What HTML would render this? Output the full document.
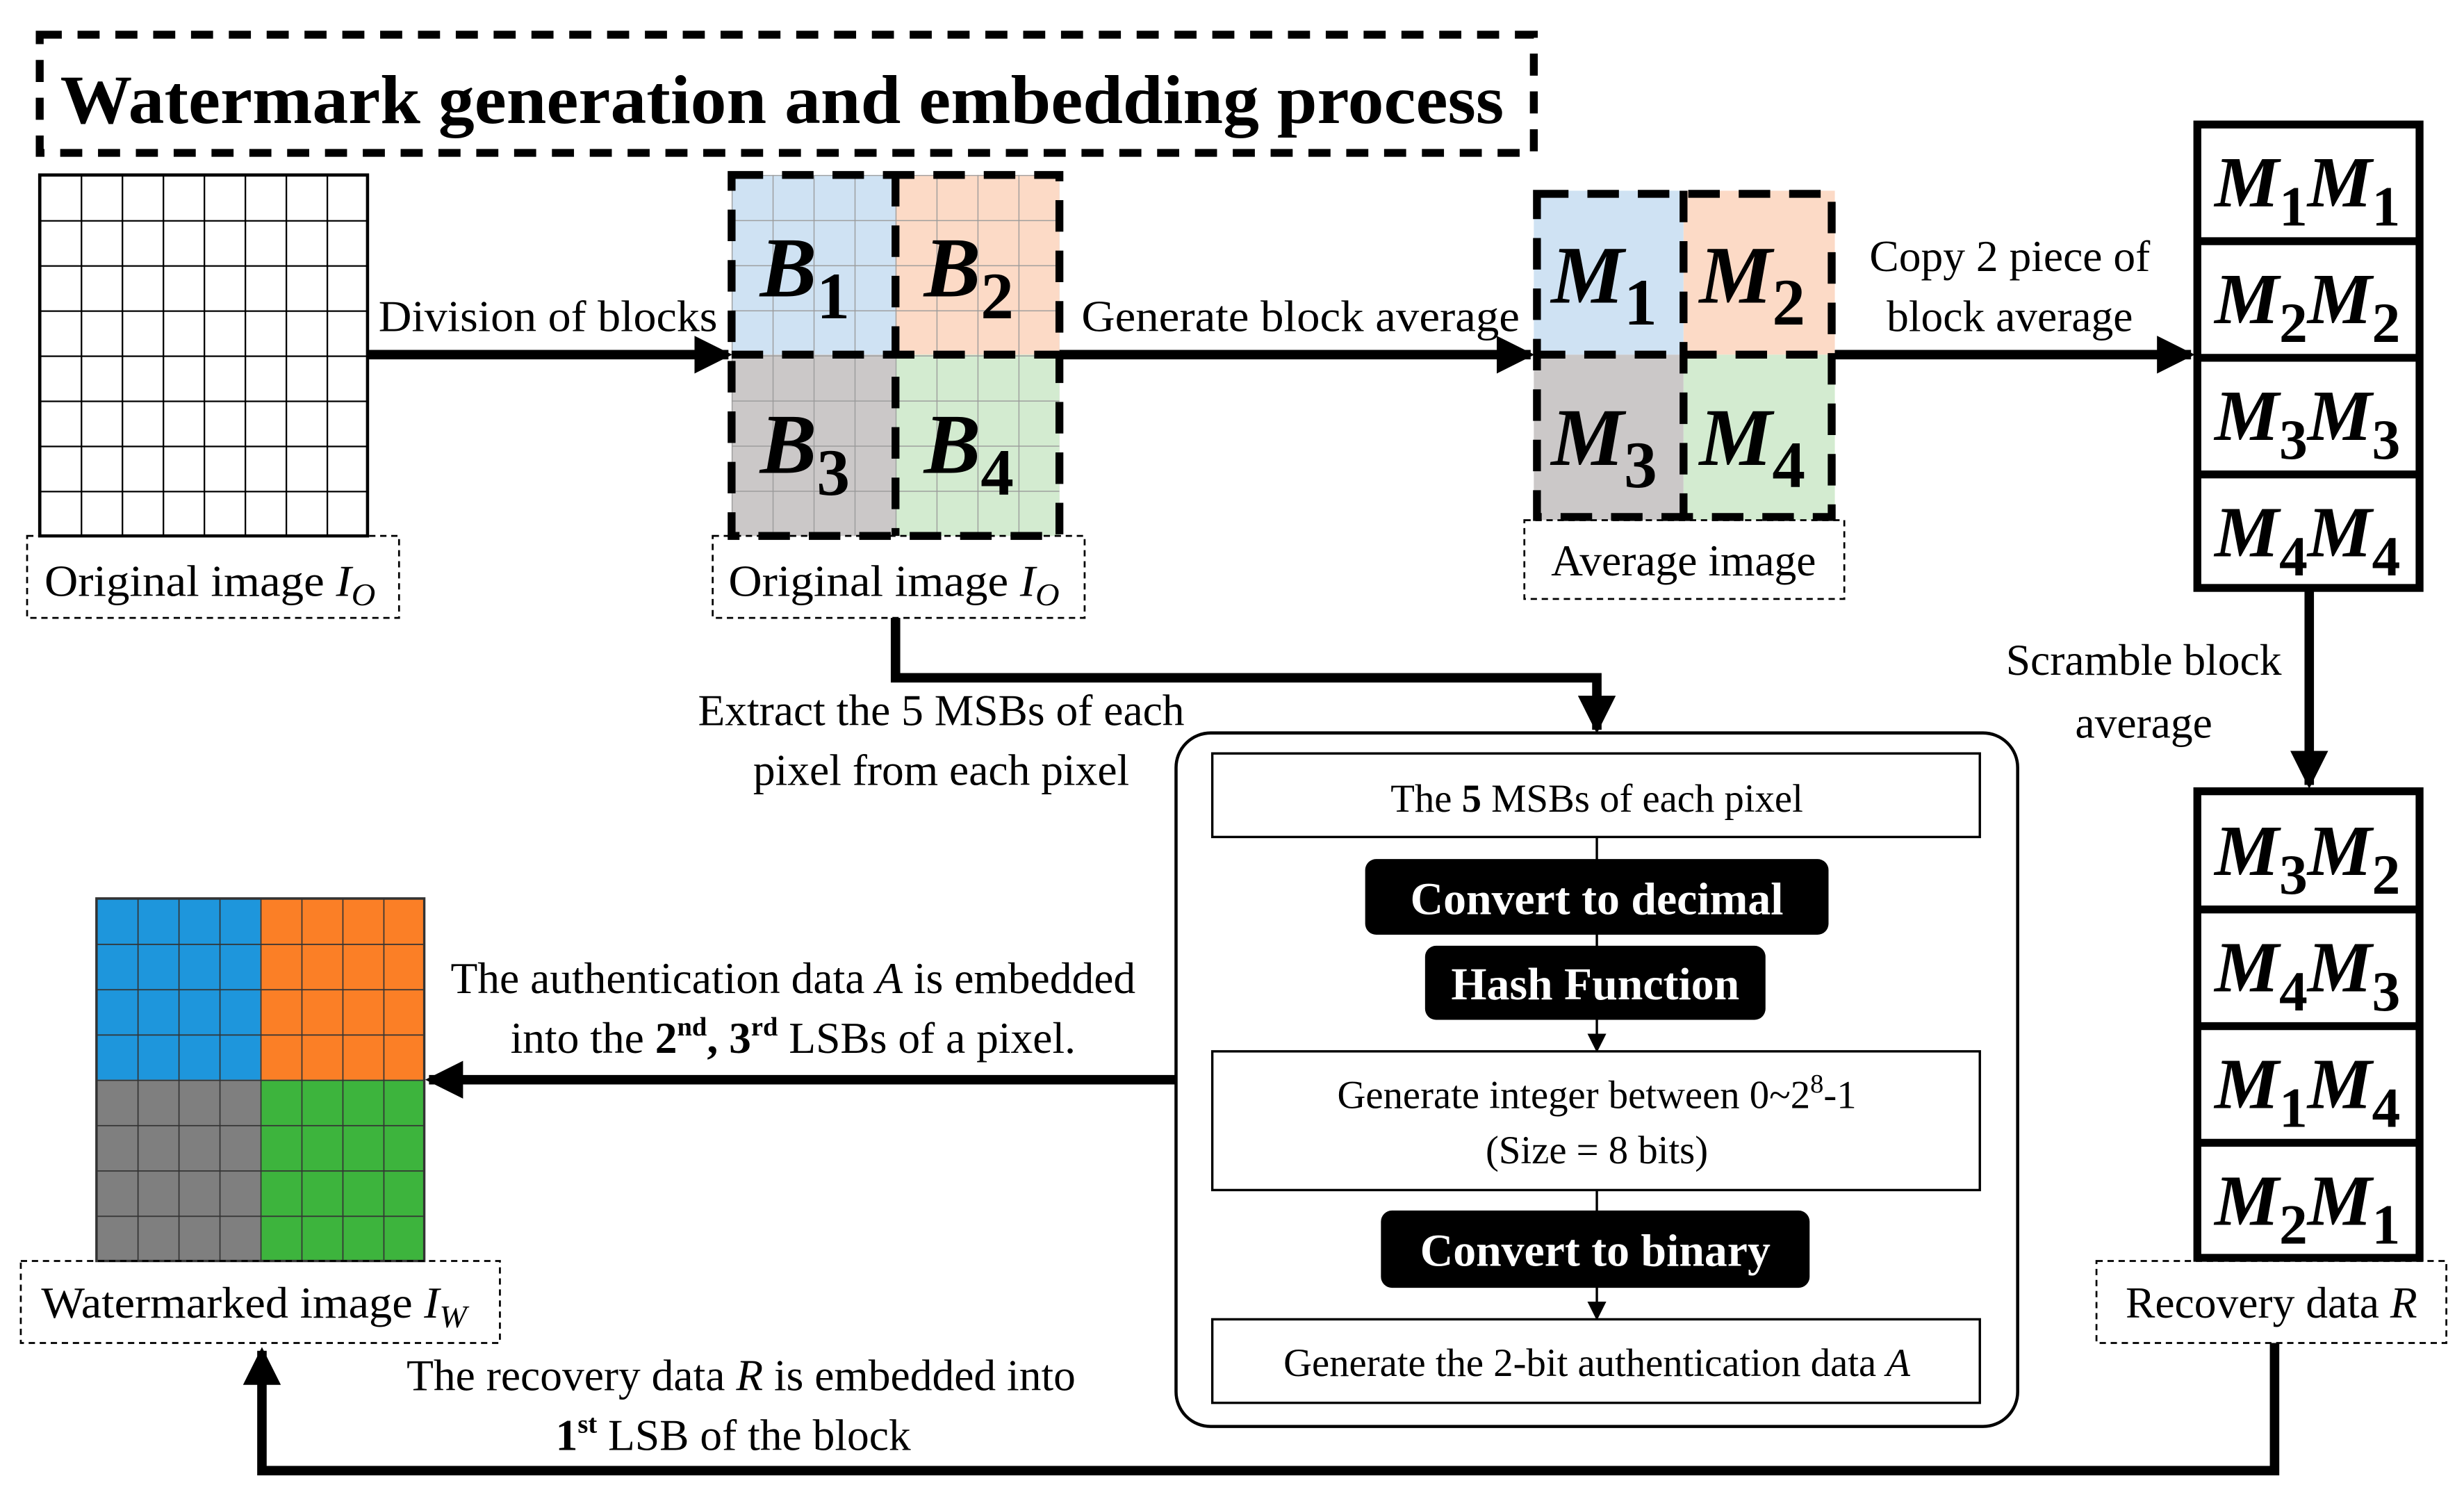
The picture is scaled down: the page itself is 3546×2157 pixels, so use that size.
<!DOCTYPE html>
<html><head><meta charset="utf-8"><style>html,body{margin:0;padding:0;background:#fff}svg{display:block}text{font-family:"Liberation Serif",serif}</style></head>
<body>
<svg width="3546" height="2157" viewBox="0 0 1563 951" xmlns="http://www.w3.org/2000/svg" font-family="Liberation Serif, serif">
<defs>
<pattern id="g1" x="25" y="111" width="26" height="28.625" patternUnits="userSpaceOnUse"><path d="M0 0H26M0 0V28.625" stroke="#000" stroke-width="2" fill="none"/></pattern>
<pattern id="g2" x="464" y="111" width="26" height="28.625" patternUnits="userSpaceOnUse"><path d="M0 0H26M0 0V28.625" stroke="#999" stroke-width="1.2" fill="none"/></pattern>
<pattern id="g3" x="61" y="570" width="26" height="28.75" patternUnits="userSpaceOnUse"><path d="M0 0H26M0 0V28.75" stroke="#333" stroke-width="1.5" fill="none"/></pattern>
<marker id="ah" markerWidth="4" markerHeight="4" refX="3.6" refY="2" orient="auto" markerUnits="strokeWidth"><path d="M0 0L4 2L0 4Z" fill="#000"/></marker>
<marker id="as" markerWidth="8" markerHeight="8" refX="7.5" refY="4" orient="auto" markerUnits="strokeWidth"><path d="M0 0L8 4L0 8Z" fill="#000"/></marker>
</defs>

<rect x="25" y="22" width="948" height="75" fill="none" stroke="#000" stroke-width="5" stroke-dasharray="14,10"/>
<text x="38" y="78" font-size="44" font-weight="bold" textLength="916" lengthAdjust="spacingAndGlyphs">Watermark generation and embedding process</text>

<rect x="25" y="111" width="208" height="229" fill="url(#g1)"/>
<rect x="25" y="111" width="208" height="229" fill="none" stroke="#000" stroke-width="2"/>
<rect x="17" y="340" width="236" height="52" fill="none" stroke="#000" stroke-width="1.2" stroke-dasharray="4,3"/>
<text x="28" y="378" font-size="28" textLength="210" lengthAdjust="spacingAndGlyphs">Original image <tspan font-style="italic">I<tspan font-size="20" dy="6">O</tspan></tspan></text>

<line x1="233" y1="225" x2="462" y2="225" stroke="#000" stroke-width="6" marker-end="url(#ah)"/>
<text x="240" y="210" font-size="28" textLength="215" lengthAdjust="spacingAndGlyphs">Division of blocks</text>

<rect x="464" y="111" width="104" height="114" fill="#cfe2f3"/>
<rect x="568" y="111" width="104" height="114" fill="#fcdac6"/>
<rect x="464" y="225" width="104" height="115" fill="#cbc8c8"/>
<rect x="568" y="225" width="104" height="115" fill="#d3ebd0"/>
<rect x="464" y="111" width="208" height="229" fill="url(#g2)"/>
<g stroke="#000" stroke-width="5" stroke-dasharray="20,12" fill="none">
<rect x="464" y="111" width="208" height="229"/>
<line x1="568" y1="111" x2="568" y2="340"/>
<line x1="464" y1="225" x2="672" y2="225"/>
</g>
<g font-size="54" font-weight="bold" font-style="italic">
<text x="482" y="188">B<tspan font-size="42" font-style="normal" dy="14">1</tspan></text>
<text x="586" y="188">B<tspan font-size="42" font-style="normal" dy="14">2</tspan></text>
<text x="482" y="300">B<tspan font-size="42" font-style="normal" dy="14">3</tspan></text>
<text x="586" y="300">B<tspan font-size="42" font-style="normal" dy="14">4</tspan></text>
</g>
<rect x="452" y="340" width="236" height="52" fill="none" stroke="#000" stroke-width="1.2" stroke-dasharray="4,3"/>
<text x="462" y="378" font-size="28" textLength="210" lengthAdjust="spacingAndGlyphs">Original image <tspan font-style="italic">I<tspan font-size="20" dy="6">O</tspan></tspan></text>

<line x1="672" y1="225" x2="971" y2="225" stroke="#000" stroke-width="6" marker-end="url(#ah)"/>
<text x="686" y="210" font-size="28" textLength="278" lengthAdjust="spacingAndGlyphs">Generate block average</text>

<rect x="973" y="121" width="95" height="104" fill="#cfe2f3"/>
<rect x="1068" y="121" width="96" height="104" fill="#fcdac6"/>
<rect x="973" y="225" width="95" height="105" fill="#cbc8c8"/>
<rect x="1068" y="225" width="96" height="105" fill="#d3ebd0"/>
<g stroke="#000" stroke-width="5" stroke-dasharray="20,12" fill="none">
<rect x="975" y="123" width="187" height="205"/>
<line x1="1068" y1="121" x2="1068" y2="330"/>
<line x1="973" y1="225" x2="1164" y2="225"/>
</g>
<g font-size="52" font-weight="bold" font-style="italic">
<text x="984" y="192">M<tspan font-size="42" font-style="normal" dy="14">1</tspan></text>
<text x="1078" y="192">M<tspan font-size="42" font-style="normal" dy="14">2</tspan></text>
<text x="984" y="295">M<tspan font-size="42" font-style="normal" dy="14">3</tspan></text>
<text x="1078" y="295">M<tspan font-size="42" font-style="normal" dy="14">4</tspan></text>
</g>
<rect x="967" y="330" width="203" height="50" fill="none" stroke="#000" stroke-width="1.2" stroke-dasharray="4,3"/>
<text x="1068" y="365" font-size="28" text-anchor="middle">Average image</text>

<line x1="1164" y1="225" x2="1390" y2="225" stroke="#000" stroke-width="6" marker-end="url(#ah)"/>
<text x="1275" y="172" font-size="28" text-anchor="middle">Copy 2 piece of</text>
<text x="1275" y="210" font-size="28" text-anchor="middle">block average</text>

<g fill="none" stroke="#000" stroke-width="5">
<rect x="1394" y="79" width="141" height="294"/>
<line x1="1394" y1="153" x2="1535" y2="153"/>
<line x1="1394" y1="227" x2="1535" y2="227"/>
<line x1="1394" y1="301" x2="1535" y2="301"/>
</g>
<g font-size="46" font-weight="bold" font-style="italic">
<text x="1405" y="131">M<tspan font-size="36" font-style="normal" dy="12">1</tspan><tspan dy="-12">M</tspan><tspan font-size="36" font-style="normal" dy="12">1</tspan></text>
<text x="1405" y="205">M<tspan font-size="36" font-style="normal" dy="12">2</tspan><tspan dy="-12">M</tspan><tspan font-size="36" font-style="normal" dy="12">2</tspan></text>
<text x="1405" y="279">M<tspan font-size="36" font-style="normal" dy="12">3</tspan><tspan dy="-12">M</tspan><tspan font-size="36" font-style="normal" dy="12">3</tspan></text>
<text x="1405" y="353">M<tspan font-size="36" font-style="normal" dy="12">4</tspan><tspan dy="-12">M</tspan><tspan font-size="36" font-style="normal" dy="12">4</tspan></text>
</g>

<line x1="1465" y1="375" x2="1465" y2="498" stroke="#000" stroke-width="6" marker-end="url(#ah)"/>
<text x="1360" y="428" font-size="28" text-anchor="middle">Scramble block</text>
<text x="1360" y="468" font-size="28" text-anchor="middle">average</text>

<g fill="none" stroke="#000" stroke-width="5">
<rect x="1394" y="502" width="141" height="296"/>
<line x1="1394" y1="577" x2="1535" y2="577"/>
<line x1="1394" y1="651" x2="1535" y2="651"/>
<line x1="1394" y1="725" x2="1535" y2="725"/>
</g>
<g font-size="46" font-weight="bold" font-style="italic">
<text x="1405" y="555">M<tspan font-size="36" font-style="normal" dy="12">3</tspan><tspan dy="-12">M</tspan><tspan font-size="36" font-style="normal" dy="12">2</tspan></text>
<text x="1405" y="629">M<tspan font-size="36" font-style="normal" dy="12">4</tspan><tspan dy="-12">M</tspan><tspan font-size="36" font-style="normal" dy="12">3</tspan></text>
<text x="1405" y="703">M<tspan font-size="36" font-style="normal" dy="12">1</tspan><tspan dy="-12">M</tspan><tspan font-size="36" font-style="normal" dy="12">4</tspan></text>
<text x="1405" y="777">M<tspan font-size="36" font-style="normal" dy="12">2</tspan><tspan dy="-12">M</tspan><tspan font-size="36" font-style="normal" dy="12">1</tspan></text>
</g>
<rect x="1330" y="800" width="222" height="52" fill="none" stroke="#000" stroke-width="1.2" stroke-dasharray="4,3"/>
<text x="1441" y="836" font-size="28" text-anchor="middle">Recovery data <tspan font-style="italic">R</tspan></text>

<polyline points="1443,852 1443,933 166,933 166,857" fill="none" stroke="#000" stroke-width="6" marker-end="url(#ah)"/>
<text x="470" y="882" font-size="28" text-anchor="middle">The recovery data <tspan font-style="italic">R</tspan> is embedded into</text>
<text x="465" y="920" font-size="28" text-anchor="middle"><tspan font-weight="bold">1<tspan font-size="17" dy="-11">st</tspan></tspan><tspan dy="11"> LSB of  the block</tspan></text>

<polyline points="568,392 568,430 1013,430 1013,463" fill="none" stroke="#000" stroke-width="6" marker-end="url(#ah)"/>
<text x="597" y="460" font-size="28" text-anchor="middle">Extract the 5 MSBs of each</text>
<text x="597" y="498" font-size="28" text-anchor="middle">pixel from each pixel</text>

<rect x="746" y="465" width="534" height="440" rx="22" fill="none" stroke="#000" stroke-width="2"/>
<rect x="769" y="478" width="487" height="53" fill="none" stroke="#000" stroke-width="1.5"/>
<text x="1013" y="515" font-size="25" text-anchor="middle">The <tspan font-weight="bold">5</tspan> MSBs of each pixel</text>
<line x1="1013" y1="531" x2="1013" y2="667" stroke="#000" stroke-width="1.5" marker-end="url(#as)"/>
<rect x="866" y="545" width="294" height="48" rx="7" fill="#000"/>
<text x="1013" y="580" font-size="29" font-weight="bold" fill="#fff" text-anchor="middle">Convert to decimal</text>
<rect x="904" y="600" width="216" height="47" rx="7" fill="#000"/>
<text x="1012" y="634" font-size="29" font-weight="bold" fill="#fff" text-anchor="middle">Hash Function</text>
<rect x="769" y="667" width="487" height="88" fill="none" stroke="#000" stroke-width="1.5"/>
<text x="1013" y="703" font-size="25" text-anchor="middle">Generate integer between 0~2<tspan font-size="17" dy="-10">8</tspan><tspan dy="10">-1</tspan></text>
<text x="1013" y="738" font-size="25" text-anchor="middle">(Size = 8 bits)</text>
<line x1="1013" y1="755" x2="1013" y2="837" stroke="#000" stroke-width="1.5" marker-end="url(#as)"/>
<rect x="876" y="768" width="272" height="49" rx="7" fill="#000"/>
<text x="1012" y="803" font-size="29" font-weight="bold" fill="#fff" text-anchor="middle">Convert to binary</text>
<rect x="769" y="837" width="487" height="53" fill="none" stroke="#000" stroke-width="1.5"/>
<text x="1013" y="873" font-size="25" text-anchor="middle">Generate the 2-bit authentication data <tspan font-style="italic">A</tspan></text>

<line x1="746" y1="685" x2="272" y2="685" stroke="#000" stroke-width="6" marker-end="url(#ah)"/>
<text x="503" y="630" font-size="28" text-anchor="middle">The authentication data <tspan font-style="italic">A</tspan> is embedded</text>
<text x="503" y="668" font-size="28" text-anchor="middle">into the <tspan font-weight="bold">2<tspan font-size="17" dy="-11">nd</tspan></tspan><tspan dy="11" font-weight="bold">, 3<tspan font-size="17" dy="-11">rd</tspan></tspan><tspan dy="11"> LSBs of a pixel.</tspan></text>

<rect x="61" y="570" width="104" height="115" fill="#1e96dc"/>
<rect x="165" y="570" width="104" height="115" fill="#fb7f26"/>
<rect x="61" y="685" width="104" height="115" fill="#7f7f7f"/>
<rect x="165" y="685" width="104" height="115" fill="#3db43d"/>
<rect x="61" y="570" width="208" height="230" fill="url(#g3)"/>
<rect x="61" y="570" width="208" height="230" fill="none" stroke="#333" stroke-width="1.5"/>
<rect x="13" y="800" width="304" height="52" fill="none" stroke="#000" stroke-width="1.2" stroke-dasharray="4,3"/>
<text x="26" y="836" font-size="28" textLength="270" lengthAdjust="spacingAndGlyphs">Watermarked image <tspan font-style="italic">I<tspan font-size="20" dy="6">W</tspan></tspan></text>
</svg>
</body></html>
